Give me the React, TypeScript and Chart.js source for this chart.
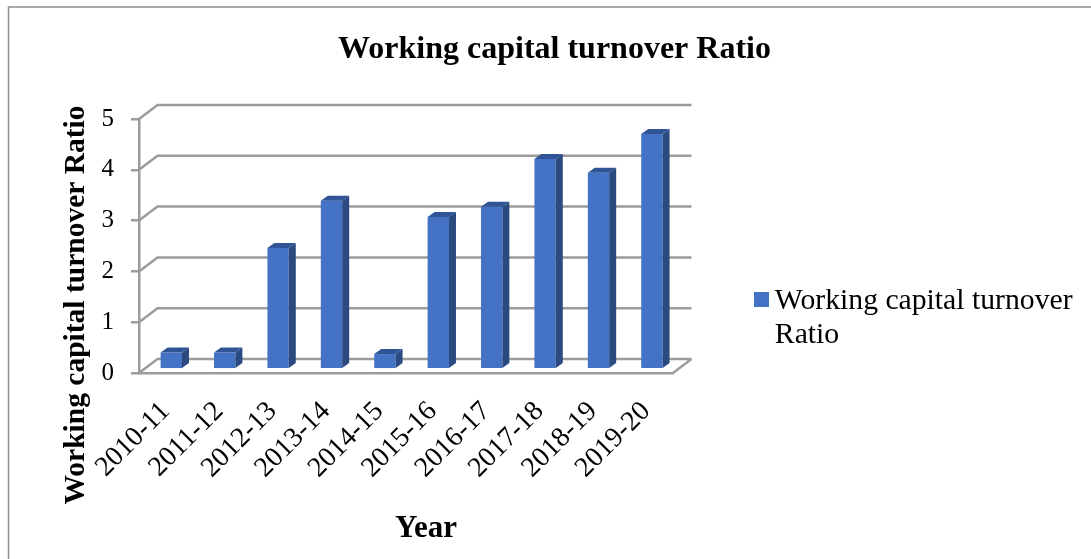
import React, { useEffect, useRef } from "react";
import { Chart, registerables } from "chart.js";

Chart.register(...registerables);

const years = ["2010-11", "2011-12", "2012-13", "2013-14", "2014-15", "2015-16", "2016-17", "2017-18", "2018-19", "2019-20"];
const turnover = [0.33, 0.33, 2.39, 3.32, 0.3, 3.0, 3.2, 4.14, 3.87, 4.63];
const chartTitle = "Working capital turnover Ratio";
const xTitle = "Year";
const yTitle = "Working capital turnover Ratio";
const legendLines = ["Working capital turnover", "Ratio"];

const SERIF = "'Liberation Serif', 'Times New Roman', serif";
const GRID = "#9c9c9c";
const FRONT = "#4472C4";
const SIDE = "#2A4A80";
const TOP = "#2F5597";

// Oblique offsets of the pseudo-3D box relative to the front plane.
const BAR_SHIFT = { x: 5.6, y: -3.7 };
const BAR_DEPTH = { x: 7, y: -5 };
const WALL_SHIFT = { x: 18.5, y: -14 };

const box3d = {
  id: "box3d",
  beforeDraw(chart: any) {
    const { ctx, width, height } = chart;
    ctx.save();
    ctx.strokeStyle = "#8f8f8f";
    ctx.lineWidth = 1.5;
    ctx.beginPath();
    ctx.moveTo(8.5, height);
    ctx.lineTo(8.5, 7);
    ctx.lineTo(width, 7);
    ctx.stroke();
    ctx.restore();
  },
  beforeDatasetsDraw(chart: any) {
    const { ctx, chartArea, scales } = chart;
    const { left, right } = chartArea;
    ctx.save();
    ctx.strokeStyle = GRID;
    ctx.lineWidth = 2.5;
    ctx.beginPath();
    for (const tick of scales.y.ticks) {
      const y = scales.y.getPixelForValue(tick.value);
      ctx.moveTo(left, y);
      ctx.lineTo(left + WALL_SHIFT.x, y + WALL_SHIFT.y);
      ctx.lineTo(right + WALL_SHIFT.x, y + WALL_SHIFT.y);
    }
    const base = scales.y.getPixelForValue(0);
    ctx.moveTo(right, base);
    ctx.lineTo(right + WALL_SHIFT.x, base + WALL_SHIFT.y);
    ctx.stroke();
    ctx.restore();
  },
  beforeDatasetDraw(chart: any) {
    chart.ctx.save();
    chart.ctx.translate(BAR_SHIFT.x, BAR_SHIFT.y);
  },
  afterDatasetDraw(chart: any, args: any) {
    const { ctx } = chart;
    for (const bar of args.meta.data) {
      const { x, y, base, width } = bar.getProps(["x", "y", "base", "width"], true);
      const l = x - width / 2;
      const r = x + width / 2;
      ctx.fillStyle = SIDE;
      ctx.beginPath();
      ctx.moveTo(r, y);
      ctx.lineTo(r + BAR_DEPTH.x, y + BAR_DEPTH.y);
      ctx.lineTo(r + BAR_DEPTH.x, base + BAR_DEPTH.y);
      ctx.lineTo(r, base);
      ctx.closePath();
      ctx.fill();
      ctx.fillStyle = TOP;
      ctx.beginPath();
      ctx.moveTo(l, y);
      ctx.lineTo(l + BAR_DEPTH.x, y + BAR_DEPTH.y);
      ctx.lineTo(r + BAR_DEPTH.x, y + BAR_DEPTH.y);
      ctx.lineTo(r, y);
      ctx.closePath();
      ctx.fill();
    }
    ctx.restore();
  },
  afterDraw(chart: any) {
    const { ctx } = chart;
    ctx.save();
    // Legend swatch sits closer to its text than the built-in gap allows.
    const hit = chart.legend.legendHitBoxes[0];
    ctx.fillStyle = FRONT;
    ctx.fillRect(hit.left + 9, 292, 15, 15);
    ctx.fillStyle = "#000";
    ctx.font = `bold 31px ${SERIF}`;
    ctx.textAlign = "center";
    ctx.textBaseline = "middle";
    ctx.fillText(xTitle, 426, 529);
    ctx.font = `bold 29.5px ${SERIF}`;
    ctx.translate(76, 305);
    ctx.rotate(-Math.PI / 2);
    ctx.fillText(yTitle, 0, 0);
    ctx.restore();
  },
};

// Reserves the gutter right of the plot and places the legend inside it.
const legendGutter = {
  id: "legendGutter",
  beforeLayout(chart: any) {
    const legend = chart.legend;
    if (legend && !legend.__gutter) {
      const fit = legend.fit;
      legend.fit = function () {
        fit.call(this);
        this.width = 418;
      };
      legend.__gutter = true;
    }
  },
  afterLayout(chart: any) {
    const legend = chart.legend;
    legend.left = 735;
    legend.right = 1091;
    legend.top = 276;
    legend.bottom = 363;
  },
};

export default function App() {
  const ref = useRef<HTMLCanvasElement>(null);
  useEffect(() => {
    const chart = new Chart(ref.current!, {
      type: "bar",
      data: {
        labels: years,
        datasets: [
          {
            label: chartTitle,
            data: turnover,
            backgroundColor: FRONT,
            barPercentage: 0.4,
            categoryPercentage: 1,
            clip: false,
          } as any,
        ],
      },
      options: {
        animation: false,
        responsive: false,
        layout: { padding: { left: 18, right: 0, top: 0, bottom: 0 } },
        plugins: {
          tooltip: { enabled: false },
          title: {
            display: true,
            text: chartTitle,
            color: "#000",
            font: { family: SERIF, size: 32, weight: "bold", lineHeight: 1.2 },
            padding: { top: 31, bottom: 49.6 },
          },
          legend: {
            display: true,
            position: "right",
            align: "start",
            labels: {
              color: "#000",
              boxWidth: 15,
              boxHeight: 15,
              padding: 10,
              font: { family: SERIF, size: 29.7, lineHeight: 1.145 },
              generateLabels: () => [
                { text: legendLines as any, fillStyle: "rgba(0,0,0,0)", strokeStyle: "rgba(0,0,0,0)", lineWidth: 0, datasetIndex: 0 },
              ],
            },
          },
        },
        scales: {
          x: {
            offset: true,
            grid: { display: false },
            border: { display: true, color: GRID, width: 2.5 },
            afterFit: (s: any) => {
              s.height = 186;
            },
            ticks: {
              color: "#000",
              font: { family: SERIF, size: 28 },
              minRotation: 45,
              maxRotation: 45,
              labelOffset: 0,
              padding: 14,
              autoSkip: false,
            },
          },
          y: {
            min: 0,
            max: 5,
            afterFit: (s: any) => {
              s.width = 121;
            },
            grid: { drawOnChartArea: false, drawTicks: true, tickLength: 8, color: GRID, lineWidth: 2.5 },
            border: { display: true, color: GRID, width: 2.5 },
            ticks: {
              stepSize: 1,
              color: "#000",
              font: { family: SERIF, size: 25 },
              padding: 17,
            },
          },
        },
      },
      plugins: [box3d, legendGutter],
    });
    return () => chart.destroy();
  }, []);
  return <canvas ref={ref} width={1091} height={559} style={{ position: "fixed", left: 0, top: 0, display: "block" }} />;
}
